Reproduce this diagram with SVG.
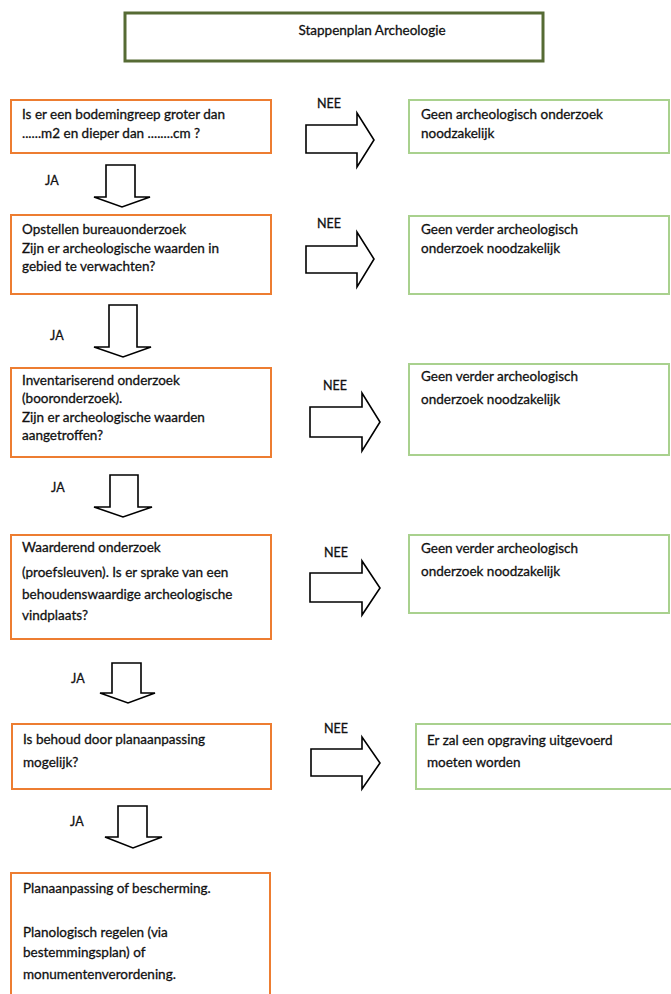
<svg xmlns="http://www.w3.org/2000/svg" width="671" height="994" viewBox="0 0 671 994">
<style>
  text { font-family: Lato, "Open Sans", sans-serif; font-size: 13.5px; fill: #111111; stroke: #111111; stroke-width: 0.3; }
  .title { font-size: 13.5px; text-anchor: middle; }
  .lbl { font-size: 12.5px; }
  .obox { fill: #ffffff; stroke: #ED7D31; stroke-width: 2; }
  .gbox { fill: #ffffff; stroke: #A9D18E; stroke-width: 2; }
  .tbox { fill: #ffffff; stroke: #566b34; stroke-width: 3; }
  .arrow { fill: #ffffff; stroke: #000000; stroke-width: 1.6; stroke-linejoin: miter; }
</style>
<rect width="671" height="994" fill="#ffffff"/>

<g id="title">
  <rect class="tbox" x="125" y="13" width="418" height="48"/>
  <text class="title" x="372" y="35">Stappenplan Archeologie</text>
</g>

<g id="q1">
  <rect class="obox" x="11" y="100" width="260" height="53"/>
  <text x="22" y="119">Is er een bodemingreep groter dan</text>
  <text x="22" y="138">......m2 en dieper dan ........cm ?</text>
</g>
<g id="r1">
  <rect class="gbox" x="409" y="100" width="260" height="53"/>
  <text x="421" y="119">Geen archeologisch onderzoek</text>
  <text x="421" y="138">noodzakelijk</text>
</g>

<g id="q2">
  <rect class="obox" x="11" y="215" width="260" height="79"/>
  <text x="22" y="234">Opstellen bureauonderzoek</text>
  <text x="22" y="253">Zijn er archeologische waarden in</text>
  <text x="22" y="271">gebied te verwachten?</text>
</g>
<g id="r2">
  <rect class="gbox" x="409" y="216" width="260" height="78"/>
  <text x="421" y="234">Geen verder archeologisch</text>
  <text x="421" y="253">onderzoek noodzakelijk</text>
</g>

<g id="q3">
  <rect class="obox" x="11" y="368" width="260" height="89"/>
  <text x="22" y="385">Inventariserend onderzoek</text>
  <text x="22" y="403">(booronderzoek).</text>
  <text x="22" y="422">Zijn er archeologische waarden</text>
  <text x="22" y="440">aangetroffen?</text>
</g>
<g id="r3">
  <rect class="gbox" x="409" y="364" width="260" height="91"/>
  <text x="421" y="381">Geen verder archeologisch</text>
  <text x="421" y="404">onderzoek noodzakelijk</text>
</g>

<g id="q4">
  <rect class="obox" x="11" y="535" width="260" height="104"/>
  <text x="22" y="552">Waarderend onderzoek</text>
  <text x="22" y="577">(proefsleuven). Is er sprake van een</text>
  <text x="22" y="599">behoudenswaardige archeologische</text>
  <text x="22" y="620">vindplaats?</text>
</g>
<g id="r4">
  <rect class="gbox" x="409" y="535" width="260" height="78"/>
  <text x="421" y="553">Geen verder archeologisch</text>
  <text x="421" y="576">onderzoek noodzakelijk</text>
</g>

<g id="q5">
  <rect class="obox" x="12" y="724" width="259" height="65"/>
  <text x="23" y="744">Is behoud door planaanpassing</text>
  <text x="23" y="767">mogelijk?</text>
</g>
<g id="r5">
  <rect class="gbox" x="416" y="724" width="270" height="65"/>
  <text x="427" y="745">Er zal een opgraving uitgevoerd</text>
  <text x="427" y="767">moeten worden</text>
</g>

<g id="end">
  <rect class="obox" x="11" y="873" width="259" height="135"/>
  <text x="23" y="893">Planaanpassing of bescherming.</text>
  <text x="23" y="937">Planologisch regelen (via</text>
  <text x="23" y="957">bestemmingsplan) of</text>
  <text x="23" y="979">monumentenverordening.</text>
</g>

<g id="connectors">
  <path class="arrow" d="M306,125 H357 V113 L374,140 L357,167 V153 H306 Z"/>
  <path class="arrow" d="M306,246 H357 V232 L374,259 L357,287 V273 H306 Z"/>
  <path class="arrow" d="M310,407 H362 V393 L380,422 L362,451 V437 H310 Z"/>
  <path class="arrow" d="M310,573 H362 V561 L380,588 L362,615 V602 H310 Z"/>
  <path class="arrow" d="M311,749 H362 V737 L380,763 L362,789 V776 H311 Z"/>

  <path class="arrow" d="M106,165 H135 V197 H150 L122,207 L94,197 H106 Z"/>
  <path class="arrow" d="M109,305 H137 V347 H151 L123,357 L94,347 H109 Z"/>
  <path class="arrow" d="M110,475 H138 V507 H152 L123,517 L94,507 H110 Z"/>
  <path class="arrow" d="M112,663 H141 V693 H155 L128,703 L100,693 H112 Z"/>
  <path class="arrow" d="M118,806 H147 V837 H162 L133,848 L105,837 H118 Z"/>

  <text class="lbl" x="317" y="108">NEE</text>
  <text class="lbl" x="317" y="228">NEE</text>
  <text class="lbl" x="323" y="390">NEE</text>
  <text class="lbl" x="324" y="557">NEE</text>
  <text class="lbl" x="324" y="733">NEE</text>

  <text class="lbl" x="45" y="185">JA</text>
  <text class="lbl" x="50" y="340">JA</text>
  <text class="lbl" x="51" y="492">JA</text>
  <text class="lbl" x="71" y="683">JA</text>
  <text class="lbl" x="70" y="826">JA</text>
</g>
</svg>
